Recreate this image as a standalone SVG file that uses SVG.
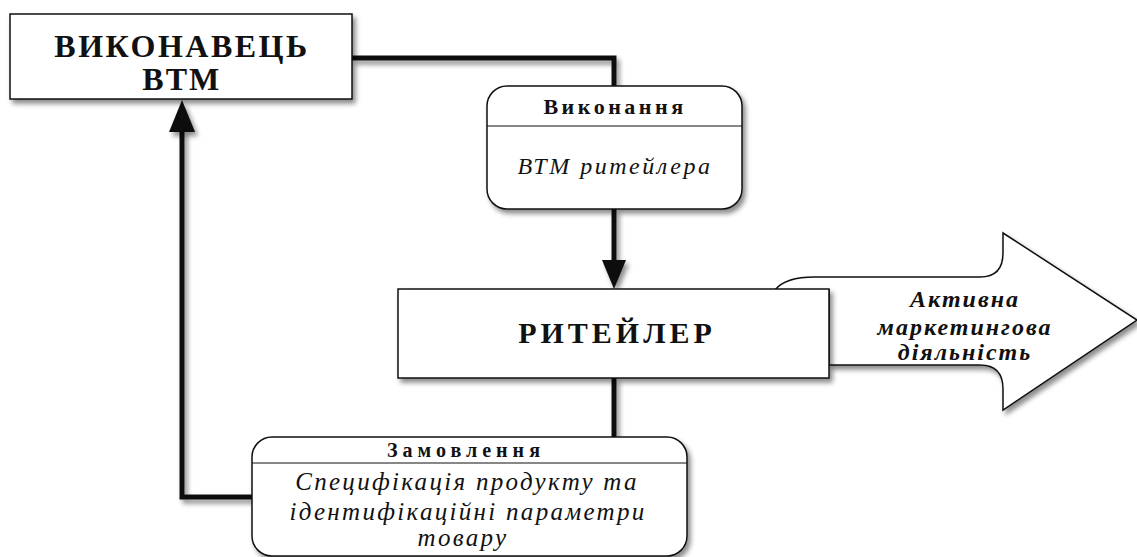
<svg xmlns="http://www.w3.org/2000/svg" width="1137" height="557" viewBox="0 0 1137 557">
<defs>
<filter id="sh" filterUnits="userSpaceOnUse" x="0" y="0" width="1137" height="557">
<feDropShadow dx="3" dy="4" stdDeviation="2.5" flood-color="#000" flood-opacity="0.45"/>
</filter>
<style>
.box{fill:#fff;stroke:#111;stroke-width:1.5;filter:url(#sh)}
.ln{fill:none;stroke:#111;stroke-width:5;filter:url(#sh)}
.head{fill:#111;filter:url(#sh)}
.tb{font-family:"Liberation Serif",serif;font-weight:bold;fill:#111;text-anchor:middle}
.ti{font-family:"Liberation Serif",serif;font-style:italic;fill:#111;text-anchor:middle}
</style>
</defs>
<g id="big-arrow">
<path class="box" d="M775,290 Q785,277 815,277 L980,277 Q1003,277 1003,253 L1003,233 L1137,320 L1003,410 L1003,389 Q1003,365 980,365 L829,365 L829,290 Z"/>
<text class="ti" font-weight="bold" font-size="24" x="965" y="307" letter-spacing="2">Активна</text>
<text class="ti" font-weight="bold" font-size="24" x="965" y="335" letter-spacing="2">маркетингова</text>
<text class="ti" font-weight="bold" font-size="24" x="965" y="360" letter-spacing="2">діяльність</text>
</g>
<g id="connectors">
<polyline class="ln" points="352,58 614,58 614,88"/>
<polyline class="ln" points="614,209 614,262"/>
<path class="head" d="M602,260 L626,260 L614,289 Z"/>
<polyline class="ln" points="614,378 614,438"/>
<polyline class="ln" points="252,497 182,497 182,130"/>
<path class="head" d="M169,132 L195,132 L182,100 Z"/>
</g>
<g id="vykonavets">
<rect class="box" x="10" y="14" width="342" height="85"/>
<text class="tb" font-size="32" x="182" y="57" letter-spacing="2.5">ВИКОНАВЕЦЬ</text>
<text class="tb" font-size="32" x="182" y="90" letter-spacing="2.5">ВТМ</text>
</g>
<g id="vykonannia">
<rect class="box" x="487" y="86" width="255" height="123" rx="20"/>
<line x1="487" y1="126" x2="742" y2="126" stroke="#111" stroke-width="1.2"/>
<text class="tb" font-size="22" x="615" y="114" letter-spacing="3.5">Виконання</text>
<text class="ti" font-size="24" x="615" y="174" letter-spacing="2.5">ВТМ ритейлера</text>
</g>
<g id="riteiler">
<rect class="box" x="398" y="289" width="431" height="89"/>
<text class="tb" font-size="30" x="617" y="343" letter-spacing="4">РИТЕЙЛЕР</text>
</g>
<g id="zamovlennia">
<rect class="box" x="252" y="437" width="435" height="119" rx="20"/>
<line x1="252" y1="463" x2="687" y2="463" stroke="#111" stroke-width="1.2"/>
<text class="tb" font-size="20" x="466" y="457" letter-spacing="5">Замовлення</text>
<text class="ti" font-size="25" x="467" y="490" letter-spacing="2.3">Специфікація продукту та</text>
<text class="ti" font-size="25" x="468" y="520" letter-spacing="2.3">ідентифікаційні параметри</text>
<text class="ti" font-size="25" x="463" y="546" letter-spacing="2.3">товару</text>
</g>
</svg>
